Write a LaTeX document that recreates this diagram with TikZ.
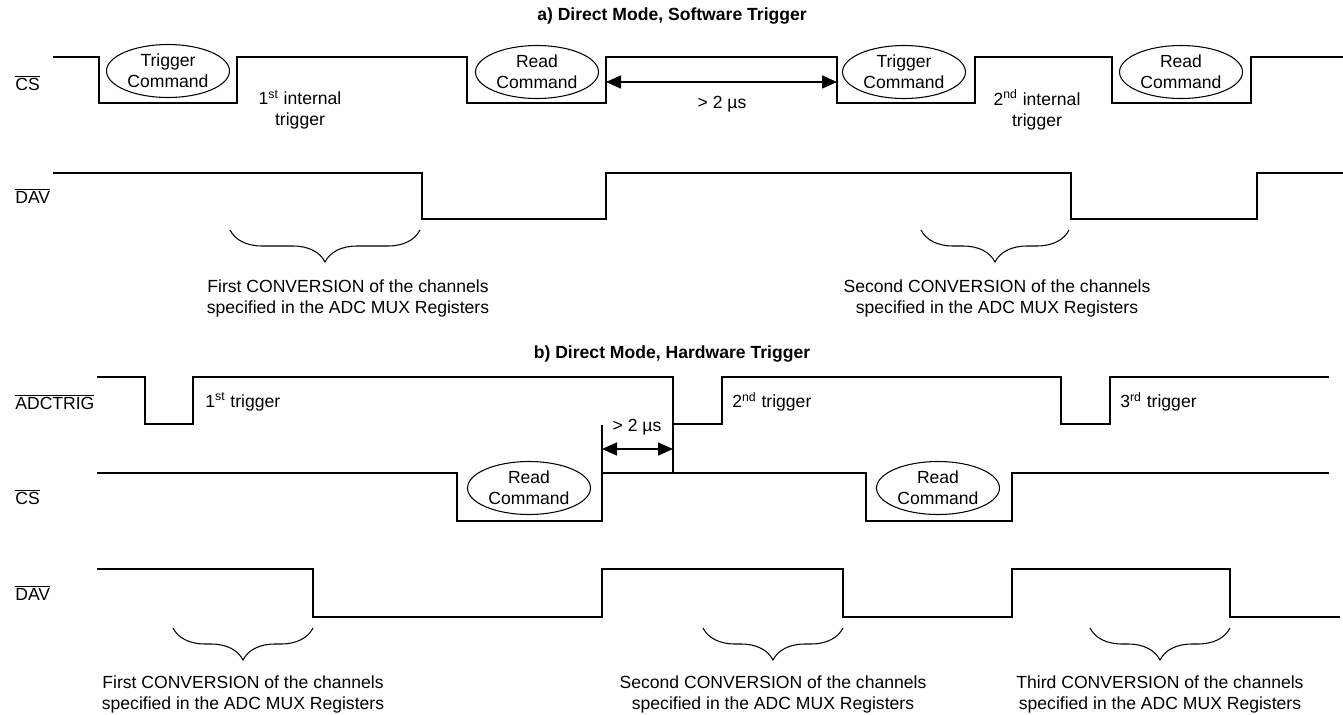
\documentclass[tikz,border=0pt]{standalone}
\usepackage{fontspec}
\setmainfont{Liberation Sans}
\usetikzlibrary{shapes.geometric, arrows.meta, decorations.pathreplacing}

\newcommand{\sigbar}[1]{$\overline{\mbox{#1}}$}

\begin{document}
\begin{tikzpicture}[x=0.02cm, y=-0.02cm,
    wave/.style={line width=0.9pt},
    cmd/.style={draw, ellipse, line width=0.6pt, minimum width=2.46cm, minimum height=1.06cm, inner sep=0pt, align=center},
    sig/.style={anchor=west, inner sep=0pt},
    note/.style={align=center, inner sep=0pt},
    gap/.style={{Triangle[length=3mm,width=2.6mm]}-{Triangle[length=3mm,width=2.6mm]}, line width=0.9pt},
    conv/.style={decorate, decoration={brace, mirror, amplitude=0.64cm}, line width=0.6pt},
    title/.style={font=\bfseries, inner sep=0pt}]
    \useasboundingbox (0,0) rectangle (1343,714);

    % a) software trigger
    \node[title] (titleA) at (672,16) {a) Direct Mode, Software Trigger};

    \node[sig] (csA) at (15,83) {\sigbar{CS}};
    \draw[wave] (53,57) -| (99,103) -| (237,57) -| (467,103) -| (606,57) -| (837,103) -| (975,57) -| (1112,103) -| (1251,57) -- (1343,57);
    \node[cmd] (trigA1) at (168,71) {Trigger\\Command};
    \node[cmd] (readA1) at (537,72) {Read\\Command};
    \node[cmd] (trigA2) at (904,72) {Trigger\\Command};
    \node[cmd] (readA2) at (1181,72) {Read\\Command};
    \node[note] (intA1) at (300,110) {1\textsuperscript{st} internal\\trigger};
    \node[note] (intA2) at (1037,110) {2\textsuperscript{nd} internal\\trigger};

    \coordinate (gapA1) at (606,82);
    \coordinate (gapA2) at (837,82);
    \draw[gap] (gapA1) -- (gapA2);
    \node[note] (gapAlbl) at (722,104) {> 2 µs};

    \node[sig] (davA) at (15,196) {\sigbar{DAV}};
    \draw[wave] (53,173) -| (422,219) -| (606,173) -| (1071,219) -| (1257,173) -- (1343,173);
    \draw[conv] (230,230) -- (420,230);
    \draw[conv] (921,230) -- (1069,230);
    \node[note] (convA1) at (348,298) {First CONVERSION of the channels\\specified in the ADC MUX Registers};
    \node[note] (convA2) at (997,298) {Second CONVERSION of the channels\\specified in the ADC MUX Registers};

    % b) hardware trigger
    \node[title] (titleB) at (672,354) {b) Direct Mode, Hardware Trigger};

    \node[sig] (trgB) at (15,402) {\sigbar{ADCTRIG}};
    \draw[wave] (97,377) -| (145,424) -| (193,377) -| (673,424) -| (722,377) -| (1061,424) -| (1110,377) -- (1329,377);
    \draw[wave] (673,424) -- (673,473);
    \node[sig] (trgB1) at (205,402) {1\textsuperscript{st} trigger};
    \node[sig] (trgB2) at (732,402) {2\textsuperscript{nd} trigger};
    \node[sig] (trgB3) at (1120,402) {3\textsuperscript{rd} trigger};

    \node[sig] (csB) at (15,497) {\sigbar{CS}};
    \draw[wave] (97,473) -| (457,521) -| (602,473) -| (866,521) -| (1012,473) -- (1329,473);
    \draw[wave] (602,473) -- (602,425);
    \node[cmd] (readB1) at (529,488) {Read\\Command};
    \node[cmd] (readB2) at (938,488) {Read\\Command};

    \coordinate (gapB1) at (602,449);
    \coordinate (gapB2) at (673,449);
    \draw[gap] (gapB1) -- (gapB2);
    \node[note] (gapBlbl) at (637,427) {> 2 µs};

    \node[sig] (davB) at (15,593) {\sigbar{DAV}};
    \draw[wave] (97,569) -| (313,617) -| (602,569) -| (843,617) -| (1012,569) -| (1230,617) -- (1340,617);
    \draw[conv] (173,628) -- (313,628);
    \draw[conv] (703,628) -- (843,628);
    \draw[conv] (1090,628) -- (1230,628);
    \node[note] (convB1) at (243,694) {First CONVERSION of the channels\\specified in the ADC MUX Registers};
    \node[note] (convB2) at (773,694) {Second CONVERSION of the channels\\specified in the ADC MUX Registers};
    \node[note] (convB3) at (1160,694) {Third CONVERSION of the channels\\specified in the ADC MUX Registers};
\end{tikzpicture}
\end{document}
